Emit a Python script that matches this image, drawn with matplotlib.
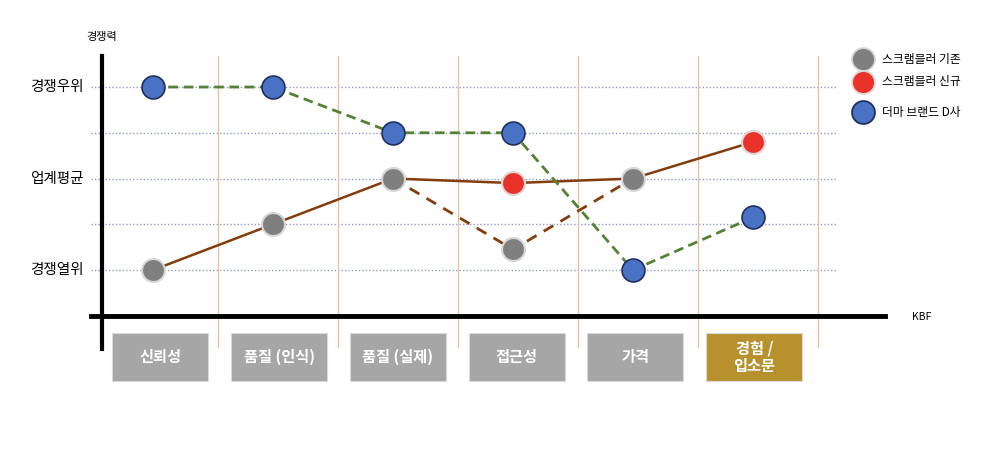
import numpy as np
import matplotlib.pyplot as plt
from matplotlib.patches import Rectangle

plt.rcParams['font.family'] = ['Noto Sans CJK KR', 'DejaVu Sans']

# data (0 = 경쟁열위, 2 = 업계평균, 4 = 경쟁우위)
categories = ['신뢰성', '품질 (인식)', '품질 (실제)', '접근성', '가격', '경험 /\n입소문']
highlight = [False, False, False, False, False, True]
level_labels = ['경쟁열위', '업계평균', '경쟁우위']
level_values = [0, 2, 4]

scr_old = [0, 1, 2, 0.45, 2, np.nan]        # 스크램블러 기존
scr_new = [np.nan, np.nan, np.nan, 1.9, np.nan, 2.8]  # 스크램블러 신규
derma_d = [4, 4, 3, 3, 0, 1.15]             # 더마 브랜드 D사
legend_names = ['스크램블러 기존', '스크램블러 신규', '더마 브랜드 D사']

GRAY, RED, BLUE = '#7f7f7f', '#e8322a', '#4a72c4'
BROWN, GREEN = '#843c0c', '#548235'

fig = plt.figure(figsize=(10, 4.65), dpi=100)
ax = fig.add_axes([0, 0, 1, 1])
ax.set_xlim(-1.275, 7.058)
ax.set_ylim(-4.262, 5.902)
ax.axis('off')

x = np.arange(len(categories))

# background grid
for v in range(5):
    ax.plot([-0.517, 5.7], [v, v], color='#8f9bc0', lw=1, ls=(0, (1, 1.5)), zorder=1)
for s in x + 0.54:
    ax.plot([s, s], [-1.68, 4.68], color='#efbfa5', lw=1, zorder=1)

# axes
ax.plot([-0.425, -0.425], [-1.72, 4.68], color='black', lw=3, zorder=2)
ax.plot([-0.517, 6.1], [-1.005, -1.005], color='black', lw=3.5, zorder=2)
ax.text(-0.425, 5.09, '경쟁력', ha='center', va='center', fontsize=8)
ax.text(6.408, -1.03, 'KBF', ha='center', va='center', fontsize=7.5)
for lab, v in zip(level_labels, level_values):
    ax.text(-0.58, v, lab, ha='right', va='center', fontsize=10.5)

# lines
old = np.array(scr_old, dtype=float)
new = np.array(scr_new, dtype=float)
solid = np.where(np.isnan(new), old, new)
ax.plot(x, solid, color=BROWN, lw=1.8, zorder=3)
ax.plot(x[2:5], old[2:5], color=BROWN, lw=2, dashes=(4, 3), zorder=3)
ax.plot(x, derma_d, color=GREEN, lw=2, dashes=(3.5, 2), zorder=3)

# markers
mk = dict(marker='o', ms=16.5, ls='none', zorder=4)
ax.plot(x, old, mfc=GRAY, mec='#d6d6d6', mew=1.5, **mk)
ax.plot(x, new, mfc=RED, mec='#e0d6d6', mew=1.5, **mk)
ax.plot(x, derma_d, mfc=BLUE, mec='#1f2f5f', mew=1.2, **mk)

# category boxes
for i, (cat, hl) in enumerate(zip(categories, highlight)):
    cx = i * 0.99 + 0.06
    ax.add_patch(Rectangle((cx - 0.4, -2.426), 0.8, 1.049,
                           facecolor='#b8912f' if hl else '#a6a6a6',
                           edgecolor='#d9d9d9', lw=0.8, zorder=2))
    ax.text(cx, -1.9, cat, ha='center', va='center', color='white',
            fontsize=11, fontweight='bold', linespacing=1.1, zorder=3)

# legend
leg_y = [4.61, 4.11, 3.45]
for name, fc, ec, ly in zip(legend_names, [GRAY, RED, BLUE],
                            ['#d6d6d6', '#e0d6d6', '#1f2f5f'], leg_y):
    ax.plot([5.917], [ly], mfc=fc, mec=ec, mew=1.3, **mk)
    ax.text(6.075, ly, name, ha='left', va='center', fontsize=8.5)

fig.savefig('out.png', dpi=100)
